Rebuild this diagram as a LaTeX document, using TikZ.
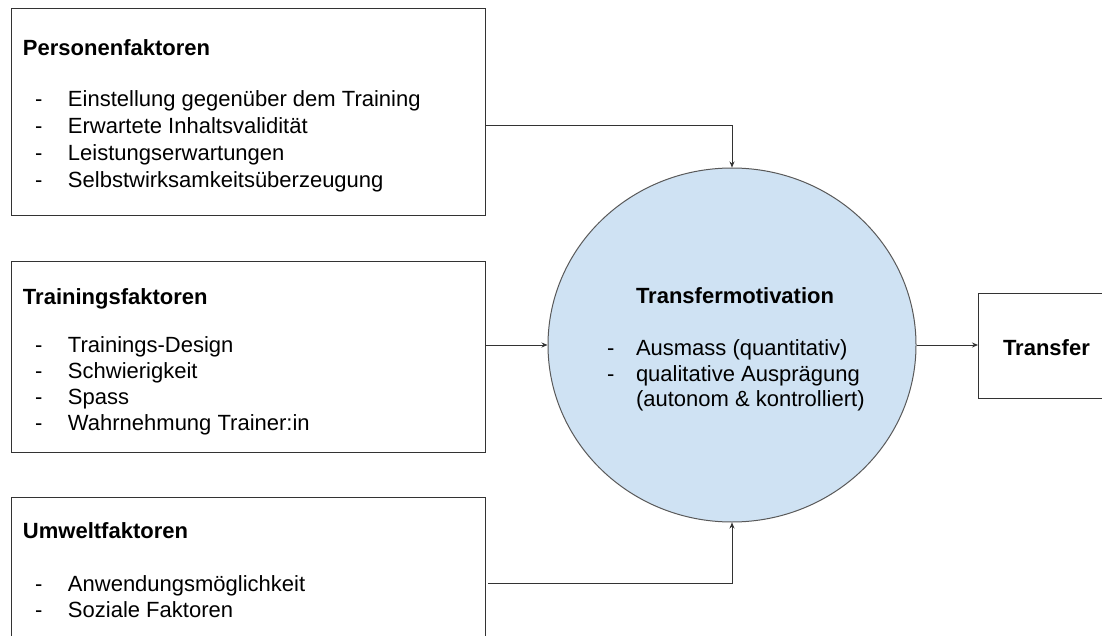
\documentclass[tikz,border=0pt]{standalone}
\usepackage{fontspec}
\setmainfont{Liberation Sans}
\usetikzlibrary{shapes.geometric,arrows.meta}
\definecolor{circfill}{HTML}{CFE2F3}
\definecolor{circline}{HTML}{595959}
\definecolor{boxline}{HTML}{333333}
\begin{document}
\begin{tikzpicture}[x=1pt,y=-1pt,
  fbox/.style={draw=boxline,line width=1pt,inner sep=0pt,outer sep=0pt,anchor=north west},
  txt/.style={anchor=base west,inner sep=0pt,outer sep=0pt,font=\fontsize{22}{26}\selectfont},
  head/.style={txt,font=\fontsize{22}{26}\selectfont\bfseries},
  conn/.style={draw=boxline,line width=0.9pt},
  arr/.style={conn,-{Stealth[length=6pt,width=5pt]}}
]
\useasboundingbox (0,0) rectangle (1102,636);
\clip (0,0) rectangle (1102,636);
\fill[white] (0,0) rectangle (1102,636);

% boxes
\node[fbox,minimum width=474pt,minimum height=207pt] (pbox) at (11,9) {};
\node[fbox,minimum width=474pt,minimum height=191pt] (tbox) at (11,261) {};
\node[fbox,minimum width=474pt,minimum height=160pt] (ubox) at (11,497) {};
\node[fbox,minimum width=140pt,minimum height=105pt] (trbox) at (978,293) {};

% circle
\node[ellipse,draw=circline,fill=circfill,line width=1pt,minimum width=368pt,minimum height=354pt,inner sep=0pt] (tm) at (732,345) {};

% Personenfaktoren
\node[head] (p0) at (23,56) {Personenfaktoren};
\node[txt] (p1) at (35,107) {\makebox[33pt][l]{-}Einstellung gegenüber dem Training};
\node[txt] (p2) at (35,134) {\makebox[33pt][l]{-}Erwartete Inhaltsvalidität};
\node[txt] (p3) at (35,161) {\makebox[33pt][l]{-}Leistungserwartungen};
\node[txt] (p4) at (35,188) {\makebox[33pt][l]{-}Selbstwirksamkeitsüberzeugung};

% Trainingsfaktoren
\node[head] (t0) at (23,304) {Trainingsfaktoren};
\node[txt] (t1) at (35,352) {\makebox[33pt][l]{-}Trainings-Design};
\node[txt] (t2) at (35,378) {\makebox[33pt][l]{-}Schwierigkeit};
\node[txt] (t3) at (35,404) {\makebox[33pt][l]{-}Spass};
\node[txt] (t4) at (35,430) {\makebox[33pt][l]{-}Wahrnehmung Trainer:in};

% Umweltfaktoren
\node[head] (u0) at (23,538) {Umweltfaktoren};
\node[txt] (u1) at (35,591) {\makebox[33pt][l]{-}Anwendungsmöglichkeit};
\node[txt] (u2) at (35,617) {\makebox[33pt][l]{-}Soziale Faktoren};

% Transfermotivation
\node[head] (m0) at (636,303) {Transfermotivation};
\node[txt] (m1) at (607,355) {\makebox[29pt][l]{-}Ausmass (quantitativ)};
\node[txt] (m2) at (607,381) {\makebox[29pt][l]{-}qualitative Ausprägung};
\node[txt] (m3) at (636,406) {(autonom \& kontrolliert)};

% Transfer
\node[head] (tr0) at (1003,355) {Transfer};

% connectors
\coordinate (pout) at (485,125);
\coordinate (uout) at (488,583);
\draw[arr] (pout) -| (tm.north);
\draw[arr] (tbox.east |- tm.west) -- (tm.west);
\draw[arr] (tm.east) -- (trbox.west |- tm.east);
\draw[arr] (uout) -| (tm.south);
\end{tikzpicture}
\end{document}
